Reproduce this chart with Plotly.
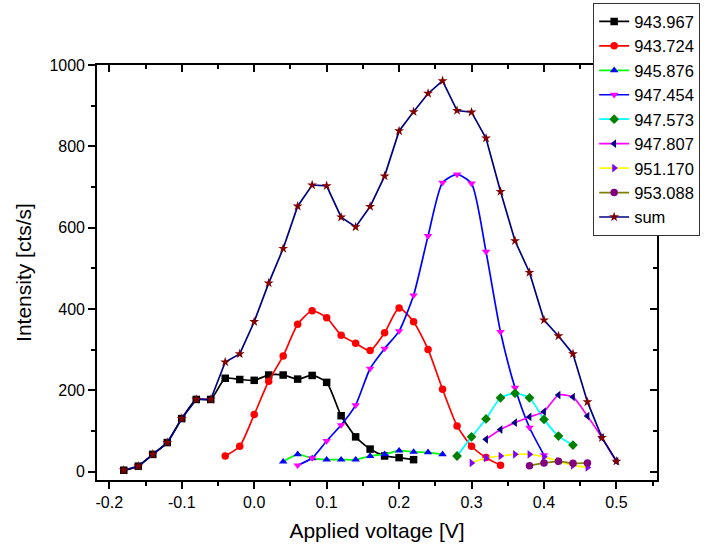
import plotly.graph_objects as go

# Applied voltage (V) and intensity (cts/s) for each emission line
x_943967 = [-0.18, -0.16, -0.14, -0.12, -0.10, -0.08, -0.06, -0.04, -0.02, 0.00, 0.02,
            0.04, 0.06, 0.08, 0.10, 0.12, 0.14, 0.16, 0.18, 0.20, 0.22]
y_943967 = [4, 14, 43, 72, 131, 178, 178, 230, 227, 225, 238,
            238, 228, 237, 220, 138, 86, 56, 39, 35, 30]

x_943724 = [-0.04, -0.02, 0.00, 0.02, 0.04, 0.06, 0.08, 0.10, 0.12, 0.14,
            0.16, 0.18, 0.20, 0.22, 0.24, 0.26, 0.28, 0.30, 0.32, 0.34]
y_943724 = [39, 63, 141, 223, 285, 363, 396, 379, 336, 316,
            298, 342, 403, 369, 301, 203, 113, 63, 35, 16]

x_945876 = [0.04, 0.06, 0.08, 0.10, 0.12, 0.14, 0.16, 0.18, 0.20, 0.22, 0.24, 0.26]
y_945876 = [25, 43, 33, 30, 30, 30, 39, 43, 52, 49, 48, 43]

x_947454 = [0.06, 0.08, 0.10, 0.12, 0.14, 0.16, 0.18, 0.20, 0.22,
            0.24, 0.26, 0.28, 0.30, 0.32, 0.34, 0.36, 0.38, 0.40]
y_947454 = [16, 34, 76, 115, 164, 254, 303, 346, 434,
            580, 711, 731, 709, 541, 344, 207, 109, 41]

x_947573 = [0.28, 0.30, 0.32, 0.34, 0.36, 0.38, 0.40, 0.42, 0.44]
y_947573 = [39, 86, 130, 182, 193, 182, 129, 88, 66]

x_947807 = [0.32, 0.34, 0.36, 0.38, 0.40, 0.42, 0.44, 0.46, 0.48, 0.50]
y_947807 = [80, 104, 121, 135, 148, 189, 184, 137, 84, 26]

x_951170 = [0.30, 0.32, 0.34, 0.36, 0.38, 0.40, 0.42, 0.44, 0.46]
y_951170 = [22, 34, 39, 43, 43, 37, 26, 16, 11]

x_953088 = [0.38, 0.40, 0.42, 0.44, 0.46]
y_953088 = [15, 22, 26, 21, 22]

x_sum = [-0.18, -0.16, -0.14, -0.12, -0.10, -0.08, -0.06, -0.04, -0.02, 0.00,
         0.02, 0.04, 0.06, 0.08, 0.10, 0.12, 0.14, 0.16, 0.18, 0.20,
         0.22, 0.24, 0.26, 0.28, 0.30, 0.32, 0.34, 0.36, 0.38, 0.40,
         0.42, 0.44, 0.46, 0.48, 0.50]
y_sum = [4, 14, 43, 72, 131, 178, 178, 270, 290, 369,
         464, 549, 653, 705, 703, 626, 602, 652, 727, 838,
         885, 930, 961, 888, 884, 820, 689, 568, 490, 373,
         334, 290, 172, 84, 26]

# axis tick labels
x_tickvals = [-0.2, -0.1, 0.0, 0.1, 0.2, 0.3, 0.4, 0.5]
x_ticktext = ["-0.2", "-0.1", "0.0", "0.1", "0.2", "0.3", "0.4", "0.5"]
y_tickvals = [0, 200, 400, 600, 800, 1000]
y_ticktext = ["0", "200", "400", "600", "800", "1000"]

series = [
    ("943.967", x_943967, y_943967, "#000000", "#000000", "square", "spline"),
    ("943.724", x_943724, y_943724, "#ff0000", "#ff0000", "circle", "spline"),
    ("945.876", x_945876, y_945876, "#00ff00", "#0000ff", "triangle-up", "spline"),
    ("947.454", x_947454, y_947454, "#0000ff", "#ff00ff", "triangle-down", "spline"),
    ("947.573", x_947573, y_947573, "#00ffff", "#008000", "diamond", "spline"),
    ("947.807", x_947807, y_947807, "#ff00ff", "#000080", "triangle-left", "spline"),
    ("951.170", x_951170, y_951170, "#ffff00", "#8000ff", "triangle-right", "spline"),
    ("953.088", x_953088, y_953088, "#808000", "#800080", "circle", "spline"),
    ("sum", x_sum, y_sum, "#000080", "#800000", "star", "linear"),
]

fig = go.Figure()
for name, xs, ys, lcol, mcol, sym, shape in series:
    fig.add_trace(go.Scatter(
        x=xs, y=ys, name=name, mode="lines+markers",
        line=dict(color=lcol, width=1.7, shape=shape, smoothing=0.6),
        marker=dict(symbol=sym, color=mcol, size=7.5, line=dict(width=0)),
    ))

# empty trace so the mirrored top/right axes with inward ticks are drawn
fig.add_trace(go.Scatter(x=[], y=[], xaxis="x2", yaxis="y2",
                         showlegend=False, hoverinfo="skip"))

x_range = [-0.217, 0.556]
y_range = [-20, 1000]
font_family = "Arial, Liberation Sans, sans-serif"

fig.update_layout(
    width=717, height=555,
    margin=dict(l=97, r=60, t=65, b=75, autoexpand=False),
    paper_bgcolor="white", plot_bgcolor="white",
    font=dict(family=font_family, color="black", size=16),
    showlegend=True,
    legend=dict(
        x=0.886, y=1.149, xanchor="left", yanchor="top",
        bgcolor="white", bordercolor="#333333", borderwidth=1,
        font=dict(size=16.5, family=font_family),
        tracegroupgap=0, itemwidth=30, entrywidth=90,
    ),
    xaxis=dict(
        range=x_range, tickvals=x_tickvals, ticktext=x_ticktext,
        showgrid=False, zeroline=False,
        showline=True, linecolor="black", linewidth=1.6, mirror=True,
        ticks="outside", ticklen=7, tickwidth=1.5, tickcolor="black",
        minor=dict(dtick=0.05, tick0=0, ticks="outside", ticklen=4, tickwidth=1.5,
                   tickcolor="black"),
        tickfont=dict(size=16),
        title=dict(text="Applied voltage [V]", font=dict(size=21), standoff=13),
        automargin=False,
    ),
    yaxis=dict(
        range=y_range, tickvals=y_tickvals, ticktext=y_ticktext,
        showgrid=False, zeroline=False,
        showline=True, linecolor="black", linewidth=1.6, mirror=True,
        ticks="outside", ticklen=7, tickwidth=1.5, tickcolor="black",
        minor=dict(dtick=100, tick0=0, ticks="outside", ticklen=4, tickwidth=1.5,
                   tickcolor="black"),
        tickfont=dict(size=16),
        title=dict(text="Intensity [cts/s]", font=dict(size=21), standoff=12),
        automargin=False,
    ),
    xaxis2=dict(
        range=x_range, overlaying="x", side="top", dtick=0.1, tick0=0,
        showgrid=False, zeroline=False, showline=False, showticklabels=False,
        ticks="inside", ticklen=7, tickwidth=1.5, tickcolor="black",
        minor=dict(dtick=0.05, ticks="inside", ticklen=4, tickwidth=1.5, tickcolor="black"),
    ),
    yaxis2=dict(
        range=y_range, overlaying="y", side="right", dtick=200, tick0=0,
        showgrid=False, zeroline=False, showline=False, showticklabels=False,
        ticks="inside", ticklen=7, tickwidth=1.5, tickcolor="black",
        minor=dict(dtick=100, ticks="inside", ticklen=4, tickwidth=1.5, tickcolor="black"),
    ),
)

fig.write_html("out.html")
